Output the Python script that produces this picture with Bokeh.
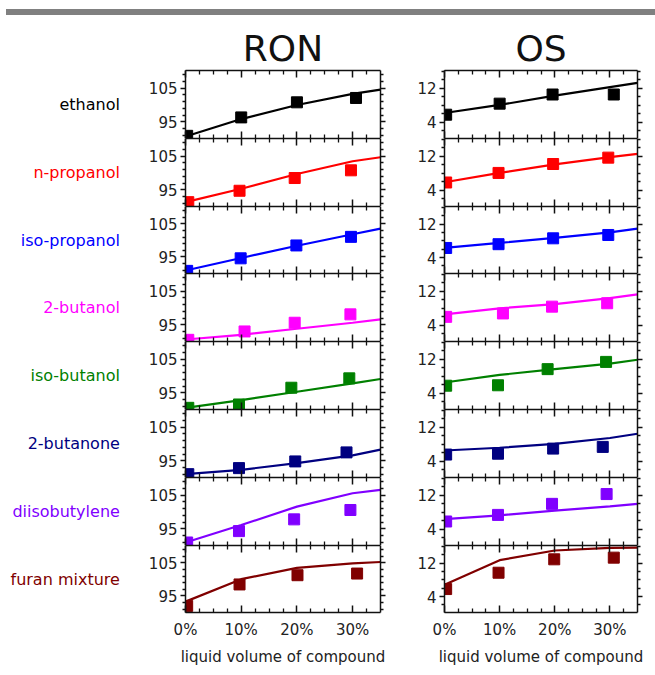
from bokeh.plotting import figure
from bokeh.models import Range1d, LinearAxis, FixedTicker, Div
from bokeh.layouts import column, row
from bokeh.embed import file_html
from bokeh.resources import INLINE

# ---------------- data ----------------
compounds = ["ethanol", "n-propanol", "iso-propanol", "2-butanol",
             "iso-butanol", "2-butanone", "diisobutylene", "furan mixture"]
colors = ["#000000", "#ff0000", "#0000ff", "#ff00ff",
          "#008000", "#000080", "#8000ff", "#800000"]

x_ticks = [0, 10, 20, 30]
x_tick_labels = ["0%", "10%", "20%", "30%"]
x_minor = [2.5, 5, 7.5, 12.5, 15, 17.5, 22.5, 25, 27.5, 32.5]
ron_ticks = [95, 105]
ron_minor = [91, 93, 97, 99, 101, 103, 107, 109]
os_ticks = [4, 12]
os_minor = [2, 6, 8, 10, 14, 16]

# model line evaluated at these volume fractions (%)
line_x = [0, 10, 20, 30, 35]

ron_marker_x = [
    [0.3, 10.0, 20.0, 30.6],
    [0.5, 9.7, 19.6, 29.7],
    [0.3, 9.9, 19.9, 29.7],
    [0.5, 10.6, 19.6, 29.6],
    [0.5, 9.6, 19.0, 29.4],
    [0.5, 9.6, 19.7, 28.9],
    [0.3, 9.6, 19.5, 29.6],
    [0.3, 9.7, 20.1, 30.8],
]
ron_marker_y = [
    [90.8, 96.3, 100.8, 102.1],
    [91.3, 94.7, 98.5, 100.8],
    [90.8, 94.6, 98.5, 101.1],
    [90.5, 93.0, 95.6, 98.1],
    [90.5, 91.5, 96.5, 99.3],
    [91.0, 92.8, 94.8, 97.5],
    [90.9, 94.3, 97.8, 100.6],
    [92.0, 98.5, 101.3, 101.8],
]
ron_line_y = [
    [90.6, 95.8, 100.0, 103.3, 104.6],
    [91.3, 95.3, 99.7, 103.5, 104.7],
    [90.9, 94.7, 98.4, 101.9, 103.6],
    [90.6, 92.0, 93.8, 95.6, 96.6],
    [90.5, 92.8, 95.3, 97.8, 99.1],
    [91.0, 92.3, 94.3, 96.6, 98.3],
    [90.9, 96.1, 101.6, 105.6, 106.6],
    [93.3, 100.1, 103.5, 104.9, 105.3],
]

os_marker_x = [
    [0.3, 10.0, 19.6, 30.7],
    [0.3, 9.8, 19.7, 29.7],
    [0.3, 9.8, 19.7, 29.7],
    [0.3, 10.6, 19.5, 29.5],
    [0.3, 9.7, 18.7, 29.3],
    [0.3, 9.7, 19.7, 28.7],
    [0.3, 9.7, 19.5, 29.4],
    [0.3, 9.8, 19.9, 30.7],
]
os_marker_y = [
    [5.8, 8.4, 10.55, 10.55],
    [5.85, 8.1, 10.2, 11.7],
    [6.3, 7.2, 8.6, 9.4],
    [6.0, 6.8, 8.4, 9.2],
    [5.8, 5.9, 9.7, 11.4],
    [5.6, 5.8, 7.0, 7.4],
    [5.85, 7.4, 10.0, 12.3],
    [5.8, 9.7, 12.9, 13.3],
]
os_line_y = [
    [6.2, 8.1, 10.3, 12.3, 13.3],
    [5.9, 8.1, 10.1, 11.8, 12.6],
    [6.3, 7.5, 8.7, 10.0, 10.9],
    [6.6, 8.0, 9.0, 10.4, 11.3],
    [6.55, 8.35, 9.7, 11.0, 11.9],
    [6.55, 7.2, 8.1, 9.5, 10.5],
    [6.4, 7.3, 8.4, 9.4, 10.0],
    [6.8, 12.7, 15.0, 15.65, 15.7],
]

column_titles = ["RON", "OS"]
x_axis_title = "liquid volume of compound"

# ---------------- styling ----------------
FONT = "DejaVu Sans"
TXT = "#222222"
frame_heights = [68, 68, 67, 68, 68, 68, 68, 67]
AXW = 1.5


def hide_labels(ax, ticks):
    ax.major_label_text_font_size = "0px"
    ax.major_label_standoff = 0
    ax.major_label_overrides = {t: "" for t in ticks}


def style_ticks(ax, tin, tout, min_in, min_out):
    ax.major_tick_in = tin
    ax.major_tick_out = tout
    ax.minor_tick_in = min_in
    ax.minor_tick_out = min_out
    ax.axis_line_width = AXW
    ax.axis_line_color = "#111111"
    ax.major_tick_line_width = AXW
    ax.major_tick_line_color = "#111111"
    ax.minor_tick_line_width = 1.3
    ax.minor_tick_line_color = "#111111"


def make_panel(i, col):
    last = i == len(compounds) - 1
    first = i == 0
    if col == 0:
        yr = Range1d(90, 110.3)
        yt, ym = ron_ticks, ron_minor
        mx, my, ly = ron_marker_x[i], ron_marker_y[i], ron_line_y[i]
        bl, br, fw = 185, 10, 195
    else:
        yr = Range1d(0.2, 16.2)
        yt, ym = os_ticks, os_minor
        mx, my, ly = os_marker_x[i], os_marker_y[i], os_line_y[i]
        bl, br, fw = 54, 18, 193
    p = figure(frame_width=fw, frame_height=frame_heights[i],
               x_range=Range1d(0, 35), y_range=yr,
               x_axis_location=None, y_axis_location=None,
               toolbar_location=None, output_backend="svg", title=None,
               min_border_left=bl, min_border_right=br,
               min_border_top=55 if first else 0,
               min_border_bottom=60 if last else 0)
    p.outline_line_color = None
    p.background_fill_color = "white"
    p.border_fill_color = "white"
    p.xgrid.visible = False
    p.ygrid.visible = False
    for g in p.grid:
        g.visible = False

    # left axis
    la = LinearAxis(ticker=FixedTicker(ticks=yt, minor_ticks=ym))
    style_ticks(la, 0, 5, 0, 3)
    la.major_label_text_font = FONT
    la.major_label_text_font_size = "15px"
    la.major_label_text_color = TXT
    la.major_label_standoff = 3
    if col == 0:
        la.axis_label = compounds[i]
        la.axis_label_orientation = "horizontal"
        la.axis_label_text_font = FONT
        la.axis_label_text_font_size = "16px"
        la.axis_label_text_font_style = "normal"
        la.axis_label_text_color = colors[i]
        la.axis_label_standoff = 26
    p.add_layout(la, "left")

    # right axis (ticks only)
    ra = LinearAxis(ticker=FixedTicker(ticks=yt, minor_ticks=ym))
    style_ticks(ra, 0, 5, 0, 3)
    hide_labels(ra, yt)
    p.add_layout(ra, "right")

    # top axis
    ta = LinearAxis(ticker=FixedTicker(ticks=x_ticks, minor_ticks=x_minor))
    style_ticks(ta, 7, 0, 4, 0)
    hide_labels(ta, x_ticks)
    if first:
        ta.axis_label = column_titles[col]
        ta.axis_label_text_font = FONT
        ta.axis_label_text_font_size = "36px"
        ta.axis_label_text_font_style = "normal"
        ta.axis_label_text_color = "#111111"
        ta.axis_label_standoff = 2
    p.add_layout(ta, "above")

    # bottom axis
    ba = LinearAxis(ticker=FixedTicker(ticks=x_ticks, minor_ticks=x_minor))
    style_ticks(ba, 7, 0, 4, 0)
    if last:
        ba.major_label_overrides = dict(zip(x_ticks, x_tick_labels))
        ba.major_label_text_font = FONT
        ba.major_label_text_font_size = "15px"
        ba.major_label_text_color = TXT
        ba.major_label_standoff = 8
        ba.axis_label = x_axis_title
        ba.axis_label_text_font = FONT
        ba.axis_label_text_font_size = "15px"
        ba.axis_label_text_font_style = "normal"
        ba.axis_label_text_color = TXT
        ba.axis_label_standoff = 6
    else:
        hide_labels(ba, x_ticks)
    p.add_layout(ba, "below")

    p.line(line_x, ly, line_color=colors[i], line_width=2.2)
    p.scatter(mx, my, marker="square", size=11, fill_color=colors[i],
              line_color=colors[i])
    return p


bar = Div(text="", width=649, height=6, margin=(9, 0, 0, 6),
          styles={"background-color": "#808080"})

rows = [row(make_panel(i, 0), make_panel(i, 1)) for i in range(len(compounds))]
layout = column(bar, *rows)

open("out.html", "w").write(file_html(layout, INLINE))
